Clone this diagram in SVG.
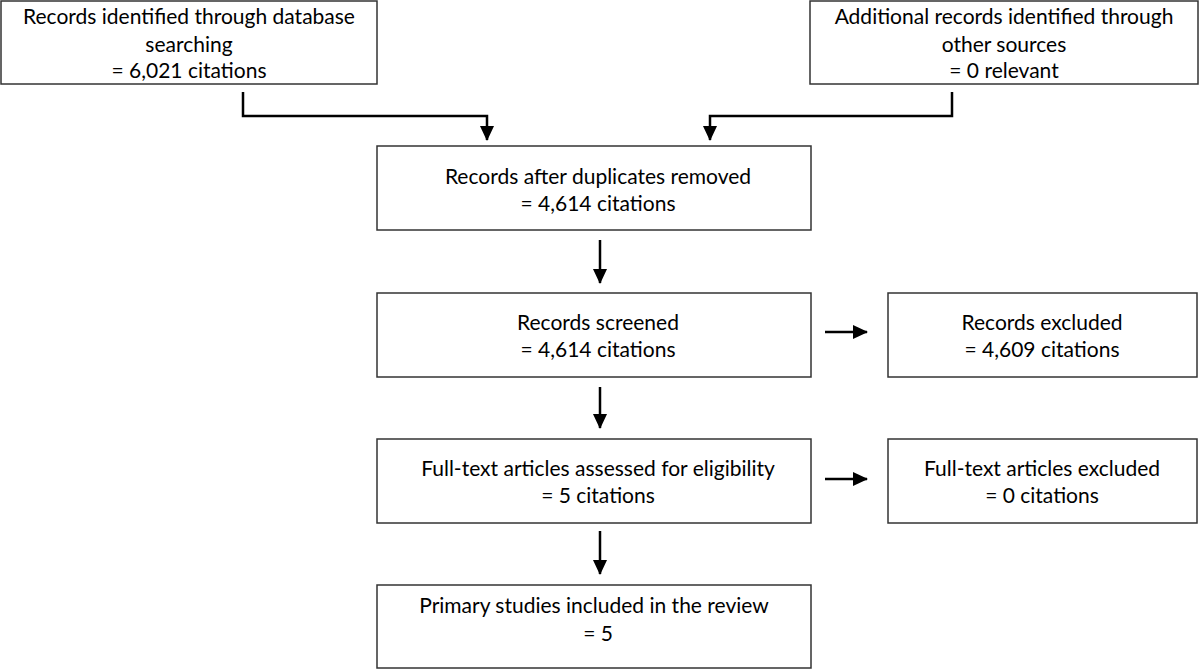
<svg xmlns="http://www.w3.org/2000/svg" width="1200" height="670" viewBox="0 0 1200 670">
<style>
.box{fill:#fff;stroke:#333;stroke-width:1.5}
.t{font-family:Lato,"Liberation Sans",sans-serif;font-size:21px;fill:#000;text-anchor:middle}
.c{fill:none;stroke:#000;stroke-width:2.5}
</style>
<defs>
<marker id="ah" markerUnits="userSpaceOnUse" markerWidth="16" markerHeight="16" viewBox="0 0 16 16" refX="14" refY="8" orient="auto">
<path d="M0,1 L15,8 L0,15 Z" fill="#000"/>
</marker>
</defs>
<rect width="1200" height="670" fill="#fff"/>
<g id="n1"><rect class="box" x="1" y="1" width="376" height="83"/>
<text class="t" x="189" y="24">Records identified through database</text>
<text class="t" x="189" y="52">searching</text>
<text class="t" x="189" y="78">= 6,021 citations</text></g>
<g id="n2"><rect class="box" x="810" y="1" width="388" height="83"/>
<text class="t" x="1004" y="24">Additional records identified through</text>
<text class="t" x="1004" y="52">other sources</text>
<text class="t" x="1004" y="78">= 0 relevant</text></g>
<g id="n3"><rect class="box" x="377" y="146" width="434" height="84"/>
<text class="t" x="598" y="184">Records after duplicates removed</text>
<text class="t" x="598" y="211">= 4,614 citations</text></g>
<g id="n4"><rect class="box" x="377" y="293" width="434" height="84"/>
<text class="t" x="598" y="330">Records screened</text>
<text class="t" x="598" y="357">= 4,614 citations</text></g>
<g id="n5"><rect class="box" x="888" y="293" width="309" height="84"/>
<text class="t" x="1042" y="330">Records excluded</text>
<text class="t" x="1042" y="357">= 4,609 citations</text></g>
<g id="n6"><rect class="box" x="377" y="439" width="434" height="84"/>
<text class="t" x="598" y="476">Full-text articles assessed for eligibility</text>
<text class="t" x="598" y="503">= 5 citations</text></g>
<g id="n7"><rect class="box" x="888" y="439" width="309" height="84"/>
<text class="t" x="1042" y="476">Full-text articles excluded</text>
<text class="t" x="1042" y="503">= 0 citations</text></g>
<g id="n8"><rect class="box" x="377" y="585" width="434" height="83"/>
<text class="t" x="594" y="613">Primary studies included in the review</text>
<text class="t" x="598" y="641">= 5</text></g>
<g id="connectors">
<path class="c" d="M243,92 V116 H487 V140" marker-end="url(#ah)"/>
<path class="c" d="M952,92 V116 H710 V140" marker-end="url(#ah)"/>
<path class="c" d="M600,240 V283" marker-end="url(#ah)"/>
<path class="c" d="M600,387 V428" marker-end="url(#ah)"/>
<path class="c" d="M600,531 V574" marker-end="url(#ah)"/>
<path class="c" d="M825,332 H867" marker-end="url(#ah)"/>
<path class="c" d="M825,479 H867" marker-end="url(#ah)"/>
</g>
</svg>
